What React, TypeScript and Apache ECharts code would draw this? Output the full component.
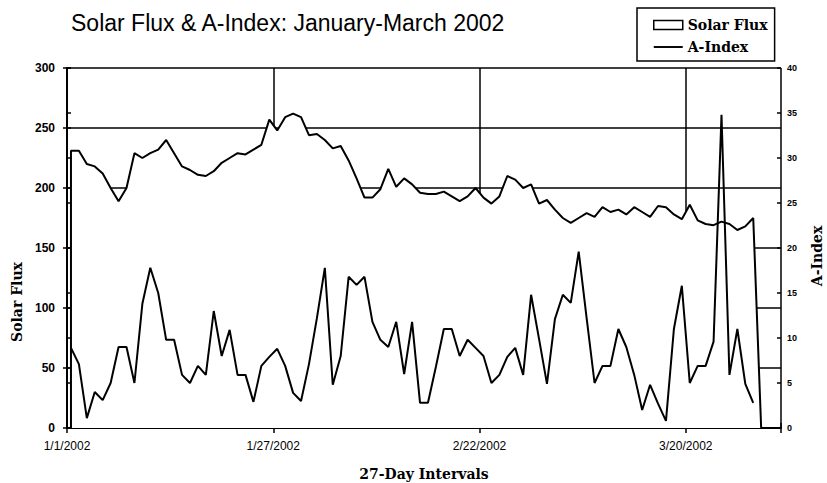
import React, { useEffect, useRef } from "react";
import * as echarts from "echarts";

// Daily values, 1/1/2002 .. 3/29/2002 (3/29 has no reading -> 0)
const solarFlux: number[] = [
  231, 231, 220, 218, 212, 200, 189, 200, 229, 225,
  229, 232, 240, 229, 218, 215, 211, 210, 214, 221,
  225, 229, 228, 232, 236, 257, 248, 259, 262, 259,
  244, 245, 240, 233, 235, 223, 208, 192, 192, 199,
  216, 201, 208, 203, 196, 195, 195, 197, 193, 189,
  193, 200, 192, 187, 193, 210, 207, 200, 203, 187,
  190, 182, 175, 171, 175, 179, 176, 184, 180, 182,
  178, 184, 180, 176, 185, 184, 178, 174, 186, 173,
  170, 169, 172, 170, 165, 168, 175, 0,
];

const aIndex: number[] = [
  8.9, 7.1, 1.1, 4.0, 3.1, 5.0, 9.0, 9.0, 5.0, 13.8,
  17.8, 15.0, 9.8, 9.8, 5.9, 5.0, 6.9, 5.9, 13.0, 8.0,
  10.9, 5.9, 5.9, 2.9, 6.9, 7.9, 8.8, 6.9, 3.9, 3.0,
  7.1, 12.2, 17.8, 4.8, 8.0, 16.8, 15.9, 16.8, 11.8, 9.8,
  9.0, 11.8, 6.0, 11.8, 2.8, 2.8, 6.8, 11.0, 11.0, 8.0,
  9.8, 8.9, 8.0, 5.0, 5.9, 7.9, 8.9, 5.9, 14.8, 9.9,
  4.9, 12.1, 14.8, 13.9, 19.6, 12.2, 5.0, 6.9, 6.9, 11.0,
  9.0, 5.9, 2.0, 4.8, 2.7, 0.8, 11.0, 15.8, 5.0, 6.9,
  6.9, 9.6, 34.8, 5.9, 11.0, 4.9, 2.8,
];

const tickDays: number[] = [0, 26, 52, 78];
const tickLabels: string[] = ["1/1/2002", "1/27/2002", "2/22/2002", "3/20/2002"];

export default function App() {
  const ref = useRef<HTMLDivElement>(null);

  useEffect(() => {
    if (!ref.current) return;
    const chart = echarts.init(ref.current, undefined, { renderer: "svg" });

    // each daily value is centred in its day slot
    const fluxData: number[][] = [[0.5, 0], ...solarFlux.map((v, i) => [i + 0.5, v])];
    const aData: number[][] = aIndex.map((v, i) => [i + 0.5, v]);

    const black = "#000";
    const sans = "Liberation Sans";
    const serif = "DejaVu Serif";

    const option: any = {
      animation: false,
      backgroundColor: "#fff",
      title: {
        text: "Solar Flux & A-Index: January-March 2002",
        left: 71,
        top: 11,
        padding: 0,
        textStyle: { fontFamily: sans, fontSize: 23, fontWeight: "normal", color: black },
      },
      legend: {
        left: 637,
        top: 8,
        orient: "vertical",
        borderColor: black,
        borderWidth: 1.5,
        padding: [10, 7, 7, 16],
        itemGap: 8,
        itemWidth: 29,
        itemHeight: 9,
        itemTextGap: 2,
        textStyle: { fontFamily: serif, fontWeight: "bold", fontSize: 14, color: black },
        data: [
          { name: "Solar Flux", icon: "rect", itemStyle: { color: "#fff", borderColor: black, borderWidth: 1.5 } },
          { name: "A-Index", icon: "path://M0,0H30V2H0Z", itemStyle: { color: black, borderWidth: 0 } },
        ],
      },
      grid: { left: 67, right: 46, top: 68, bottom: 55 },
      xAxis: [
        {
          type: "value",
          min: 0,
          max: 90,
          interval: 26,
          position: "bottom",
          axisLine: { show: true, lineStyle: { color: black, width: 2 } },
          axisTick: { show: true, length: 5, lineStyle: { color: black, width: 1.5 } },
          axisLabel: {
            fontFamily: sans,
            fontSize: 12,
            color: black,
            margin: 12,
            formatter: (v: number) => {
              const k = tickDays.indexOf(v);
              return k >= 0 ? tickLabels[k] : "";
            },
          },
          splitLine: { show: true, lineStyle: { color: black, width: 1.5 } },
        },
        {
          type: "value",
          min: 0,
          max: 90,
          interval: 26,
          position: "bottom",
          axisLine: { show: false },
          axisTick: { show: true, inside: true, length: 5, lineStyle: { color: black, width: 1.5 } },
          axisLabel: { show: false },
          splitLine: { show: false },
        },
      ],
      yAxis: [
        {
          type: "value",
          min: 0,
          max: 300,
          interval: 50,
          position: "left",
          axisLine: { show: true, lineStyle: { color: black, width: 2 } },
          axisTick: { show: true, length: 4, lineStyle: { color: black, width: 1.5 } },
          axisLabel: { fontFamily: sans, fontSize: 12, fontWeight: "bold", color: black, margin: 12 },
          splitLine: { show: true, lineStyle: { color: black, width: 1.5 } },
        },
        {
          type: "value",
          min: 0,
          max: 40,
          interval: 5,
          position: "right",
          axisLine: { show: true, lineStyle: { color: black, width: 2 } },
          axisTick: { show: true, length: 4, lineStyle: { color: black, width: 1.5 } },
          axisLabel: { fontFamily: sans, fontSize: 9, fontWeight: "bold", color: black, margin: 6 },
          splitLine: { show: false },
        },
        {
          type: "value",
          min: 0,
          max: 300,
          interval: 50,
          position: "left",
          axisLine: { show: false },
          axisTick: { show: true, inside: true, length: 4, lineStyle: { color: black, width: 1.5 } },
          axisLabel: { show: false },
          splitLine: { show: false },
        },
        {
          type: "value",
          min: 0,
          max: 40,
          interval: 5,
          position: "right",
          axisLine: { show: false },
          axisTick: { show: true, inside: true, length: 4, lineStyle: { color: black, width: 1.5 } },
          axisLabel: { show: false },
          splitLine: { show: false },
        },
      ],
      series: [
        {
          name: "Solar Flux",
          type: "line",
          xAxisIndex: 0,
          yAxisIndex: 0,
          data: fluxData,
          symbol: "none",
          lineStyle: { color: black, width: 2 },
          itemStyle: { color: "#fff", borderColor: black },
          areaStyle: { color: "#fff", opacity: 1 },
          z: 2,
        },
        {
          name: "A-Index",
          type: "line",
          xAxisIndex: 0,
          yAxisIndex: 1,
          data: aData,
          symbol: "none",
          lineStyle: { color: black, width: 2 },
          itemStyle: { color: black },
          z: 3,
        },
      ],
      graphic: [
        {
          type: "text",
          x: 17,
          y: 302,
          rotation: Math.PI / 2,
          style: {
            text: "Solar Flux",
            fontFamily: serif,
            fontWeight: "bold",
            fontSize: 14,
            fill: black,
            align: "center",
            verticalAlign: "middle",
          },
        },
        {
          type: "text",
          x: 817,
          y: 256,
          rotation: Math.PI / 2,
          style: {
            text: "A-Index",
            fontFamily: serif,
            fontWeight: "bold",
            fontSize: 14,
            fill: black,
            align: "center",
            verticalAlign: "middle",
          },
        },
        {
          type: "text",
          x: 424,
          y: 474,
          style: {
            text: "27-Day Intervals",
            fontFamily: serif,
            fontWeight: "bold",
            fontSize: 14,
            fill: black,
            align: "center",
            verticalAlign: "middle",
          },
        },
      ],
    };

    chart.setOption(option);
    return () => chart.dispose();
  }, []);

  return (
    <div
      ref={ref}
      style={{ position: "fixed", left: 0, top: 0, width: 827, height: 483, background: "#fff" }}
    />
  );
}
